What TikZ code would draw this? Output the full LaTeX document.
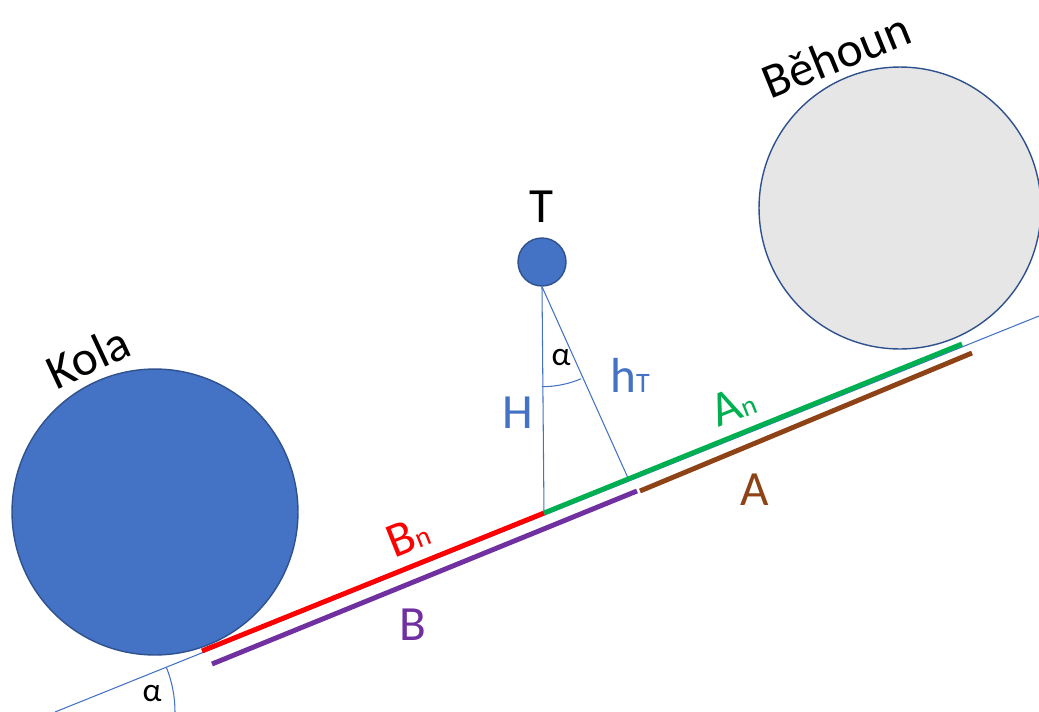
\documentclass[tikz,border=0pt]{standalone}
\usepackage{fontspec}
\setmainfont{Carlito}
\usetikzlibrary{calc}
\definecolor{modra}{HTML}{4472C4}
\definecolor{okraj}{HTML}{2F528F}
\definecolor{seda}{HTML}{E7E6E6}
\definecolor{zelena}{HTML}{00B050}
\definecolor{fialova}{HTML}{7030A0}
\definecolor{hneda}{HTML}{8E4317}
\newcommand{\mal}[1]{{\fontsize{16}{16}\selectfont #1}}
\tikzset{
  koule/.style={draw=okraj,circle,inner sep=0pt,line width=0.8pt},
  tenka/.style={draw=modra,line width=0.6pt},
  usek/.style={line width=2.8pt},
  popis/.style={font=\fontsize{28}{30}\selectfont,inner sep=0pt},
  uhel/.style={font=\fontsize{19}{20}\selectfont,inner sep=0pt}
}

\begin{document}
\begin{tikzpicture}[x=0.02cm,y=-0.02cm]
  \useasboundingbox (0,0) rectangle (1039,711);

  % koule
  \node[koule,fill=modra,minimum size=5.72cm] (kola) at (155,512) {};
  \node[koule,fill=seda,minimum size=5.64cm] (behoun) at (900,208) {};
  \node[koule,fill=modra,minimum size=0.96cm] (t) at (542,262) {};

  % body na svahu
  \coordinate (o) at (55,712);
  \coordinate (konec) at (1039,316);
  \coordinate (bn0) at (202,651);
  \coordinate (h0) at (544,513);
  \coordinate (an1) at (962,344);
  \coordinate (b0) at (212,664);
  \coordinate (b1) at (637,491);
  \coordinate (a0) at (640,491);
  \coordinate (a1) at (972,353);
  \coordinate (ht) at (628,478);

  \draw[tenka] (o)--(konec);
  \draw[tenka] (t.south)--(h0);
  \draw[tenka] (t.south)--(ht);

  \draw[usek,red] (bn0)--(h0);
  \draw[usek,zelena] (h0)--(an1);
  \draw[usek,fialova] (b0)--(b1);
  \draw[usek,hneda] (a0)--(a1);

  % uhly
  \draw[tenka] ($(t.south)+(0,100)$) arc[start angle=90,end angle=67,radius=100];
  \draw[tenka] ($(o)+(120,0)$) arc[start angle=0,end angle=-21.8,radius=120];

  % popisky
  \node[popis] (lt) at (541,207) {T};
  \node[popis,rotate=25] (lkola) at (88,357) {Kola};
  \node[popis,rotate=22] (lbehoun) at (836,55) {Běhoun};
  \node[popis,text=modra] (lh) at (518,413) {H};
  \node[popis,text=modra] (lht) at (630,375) {h\mal{T}};
  \node[popis,text=zelena,rotate=21.8] (lan) at (733,405) {A\mal{n}};
  \node[popis,text=red,rotate=21.8] (lbn) at (408,536) {B\mal{n}};
  \node[popis,text=hneda] (la) at (755,490) {A};
  \node[popis,text=fialova] (lb) at (413,625) {B};
  \node[uhel] (alfa1) at (561,357) {α};
  \node[uhel] (alfa2) at (152,693) {α};
\end{tikzpicture}
\end{document}
